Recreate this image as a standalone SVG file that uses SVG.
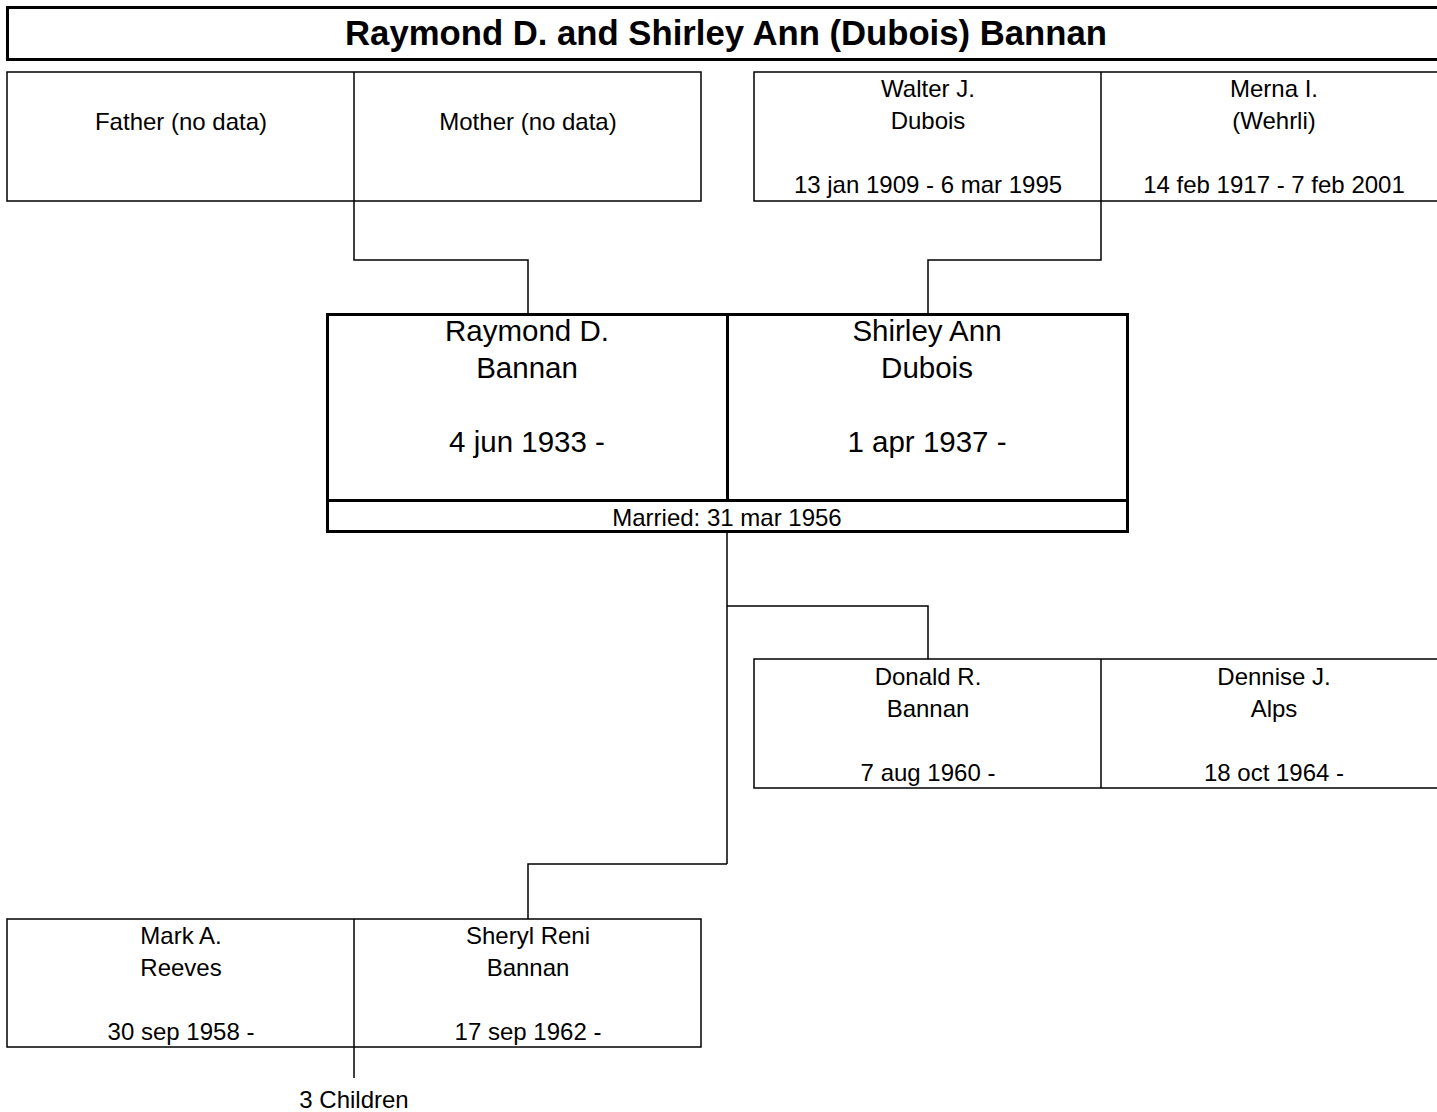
<svg xmlns="http://www.w3.org/2000/svg" width="1437" height="1112" viewBox="0 0 1437 1112">
<style>
text{font-family:"Liberation Sans",Arial,sans-serif;fill:#000;text-anchor:middle}
.s{font-size:24px}
.b{font-size:29.5px}
.t{font-size:34.7px;font-weight:bold}
.thin{fill:#fff;stroke:#000;stroke-width:1.5}
.thick{fill:#fff;stroke:#000;stroke-width:3}
.c{fill:none;stroke:#000;stroke-width:1.5}
</style>
<rect width="1437" height="1112" fill="#fff"/>
<g id="title">
<rect class="thick" x="7.5" y="7.5" width="1440" height="52"/>
<text class="t" x="726" y="45">Raymond D. and Shirley Ann (Dubois) Bannan</text>
</g>
<g id="connectors">
<polyline class="c" points="354,201 354,260 528,260 528,314"/>
<polyline class="c" points="1101,201 1101,260 928,260 928,314"/>
<polyline class="c" points="727,532 727,864"/>
<polyline class="c" points="727,606 928,606 928,659"/>
<polyline class="c" points="727,864 528,864 528,919"/>
<polyline class="c" points="354,1047 354,1078"/>
</g>
<g id="paternal-parents">
<rect class="thin" x="7" y="72" width="694" height="129"/>
<line class="c" x1="354" y1="72" x2="354" y2="201"/>
<text class="s" x="181" y="130">Father (no data)</text>
<text class="s" x="528" y="130">Mother (no data)</text>
</g>
<g id="maternal-parents">
<rect class="thin" x="754" y="72" width="700" height="129"/>
<line class="c" x1="1101" y1="72" x2="1101" y2="201"/>
<text class="s" x="928" y="97">Walter J.</text>
<text class="s" x="928" y="129">Dubois</text>
<text class="s" x="928" y="193">13 jan 1909 - 6 mar 1995</text>
<text class="s" x="1274" y="97">Merna I.</text>
<text class="s" x="1274" y="129">(Wehrli)</text>
<text class="s" x="1274" y="193">14 feb 1917 - 7 feb 2001</text>
</g>
<g id="couple">
<rect class="thick" x="327.5" y="314.5" width="800" height="217"/>
<line class="thick" x1="727.5" y1="314" x2="727.5" y2="501"/>
<line class="thick" x1="327" y1="500.5" x2="1128" y2="500.5"/>
<text class="b" x="527" y="341">Raymond D.</text>
<text class="b" x="527" y="378">Bannan</text>
<text class="b" x="527" y="452">4 jun 1933 -</text>
<text class="b" x="927" y="341">Shirley Ann</text>
<text class="b" x="927" y="378">Dubois</text>
<text class="b" x="927" y="452">1 apr 1937 -</text>
<text class="s" x="727" y="526">Married: 31 mar 1956</text>
</g>
<g id="child-donald">
<rect class="thin" x="754" y="659" width="700" height="129"/>
<line class="c" x1="1101" y1="659" x2="1101" y2="788"/>
<text class="s" x="928" y="685">Donald R.</text>
<text class="s" x="928" y="717">Bannan</text>
<text class="s" x="928" y="781">7 aug 1960 -</text>
<text class="s" x="1274" y="685">Dennise J.</text>
<text class="s" x="1274" y="717">Alps</text>
<text class="s" x="1274" y="781">18 oct 1964 -</text>
</g>
<g id="child-sheryl">
<rect class="thin" x="7" y="919" width="694" height="128"/>
<line class="c" x1="354" y1="919" x2="354" y2="1047"/>
<text class="s" x="181" y="944">Mark A.</text>
<text class="s" x="181" y="976">Reeves</text>
<text class="s" x="181" y="1040">30 sep 1958 -</text>
<text class="s" x="528" y="944">Sheryl Reni</text>
<text class="s" x="528" y="976">Bannan</text>
<text class="s" x="528" y="1040">17 sep 1962 -</text>
<text class="s" x="354" y="1108">3 Children</text>
</g>
</svg>
